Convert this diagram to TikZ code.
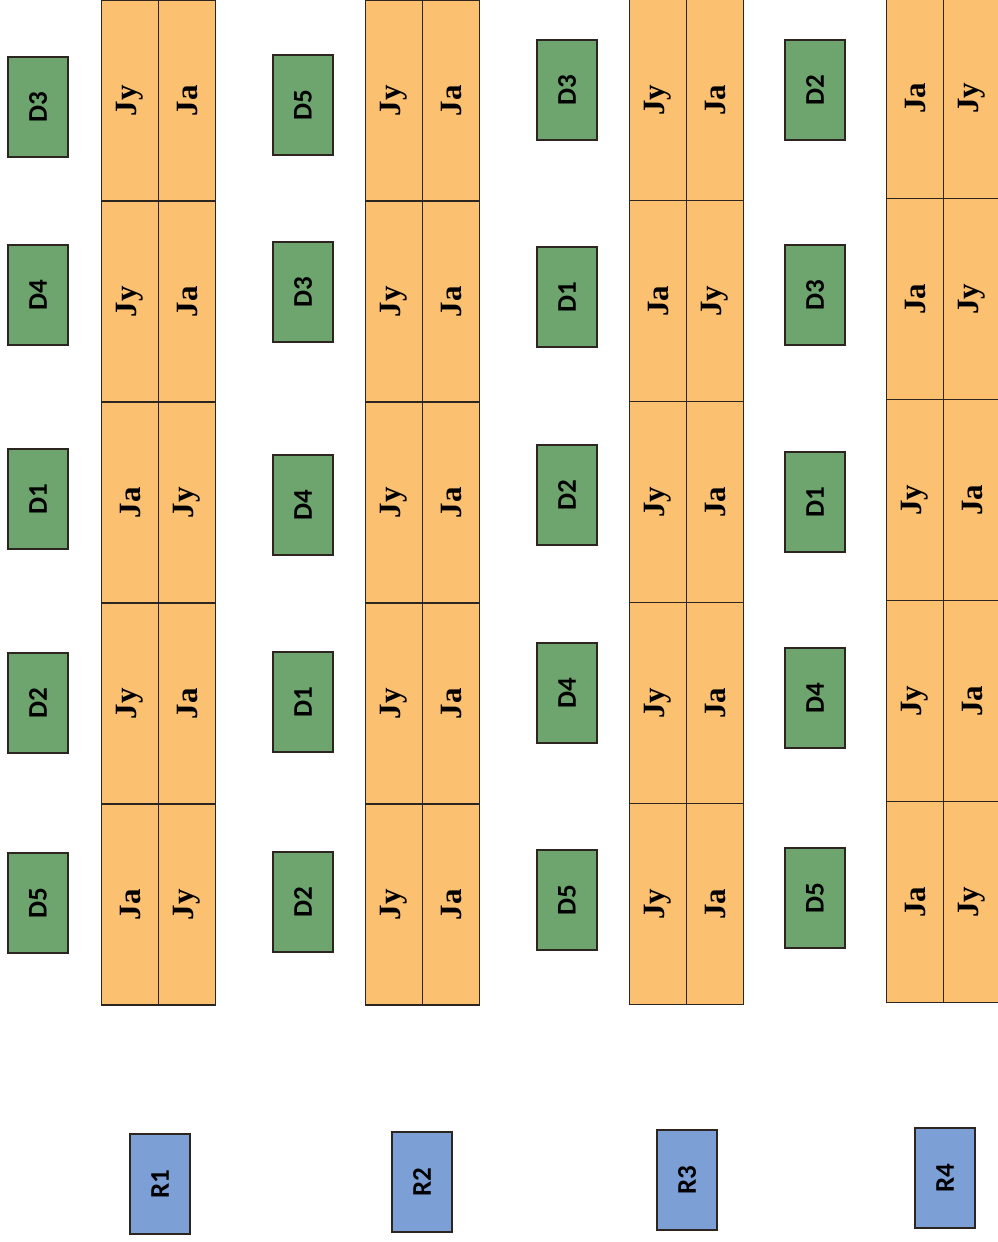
\documentclass[tikz,border=0pt]{standalone}
\usepackage{fontspec}
\setmainfont{Liberation Serif}
\newfontfamily\labelfont{Carlito}
\definecolor{cellfill}{RGB}{251,192,112}
\definecolor{dfill}{RGB}{110,164,110}
\definecolor{rfill}{RGB}{124,160,214}
\definecolor{edge}{RGB}{45,38,32}
\tikzset{
  cellbox/.style={draw=edge, line width=1.8pt, fill=cellfill, minimum width=57pt, minimum height=201pt, inner sep=0pt, font=\fontsize{31}{34}\selectfont\bfseries},
  dbox/.style={draw=edge, line width=1.8pt, fill=dfill, minimum width=60pt, minimum height=100pt, inner sep=0pt, font=\labelfont\fontsize{27}{30}\selectfont\bfseries},
  rbox/.style={draw=edge, line width=1.8pt, fill=rfill, minimum width=60pt, minimum height=100pt, inner sep=0pt, font=\labelfont\fontsize{27}{30}\selectfont\bfseries},
}
\newcommand{\rt}[1]{\rotatebox{90}{#1}}
\begin{document}
\begin{tikzpicture}[x=1pt,y=-1pt]
\useasboundingbox (0,0) rectangle (998,1242);
% ---- group 1
\foreach \n/\y/\lab in {1/107/D3,2/295/D4,3/499/D1,4/703/D2,5/903/D5}
  \node[dbox] (g1d\n) at (38,\y) {\rt{\lab}};
\foreach \n/\a/\b in {1/Jy/Ja,2/Jy/Ja,3/Ja/Jy,4/Jy/Ja,5/Ja/Jy}{
  \node[cellbox] (g1l\n) at (130,{100.5+201*(\n-1)}) {\rt{\a}};
  \node[cellbox] (g1r\n) at (187,{100.5+201*(\n-1)}) {\rt{\b}};
}
\node[rbox] (r1) at (160,1184) {\rt{R1}};
% ---- group 2
\foreach \n/\y/\lab in {1/105/D5,2/292/D3,3/505/D4,4/702/D1,5/902/D2}
  \node[dbox] (g2d\n) at (303,\y) {\rt{\lab}};
\foreach \n/\a/\b in {1/Jy/Ja,2/Jy/Ja,3/Jy/Ja,4/Jy/Ja,5/Jy/Ja}{
  \node[cellbox] (g2l\n) at (394,{100.5+201*(\n-1)}) {\rt{\a}};
  \node[cellbox] (g2r\n) at (451,{100.5+201*(\n-1)}) {\rt{\b}};
}
\node[rbox] (r2) at (422,1182) {\rt{R2}};
% ---- group 3
\foreach \n/\y/\lab in {1/90/D3,2/297/D1,3/495/D2,4/693/D4,5/900/D5}
  \node[dbox] (g3d\n) at (567,\y) {\rt{\lab}};
\foreach \n/\a/\b in {1/Jy/Ja,2/Ja/Jy,3/Jy/Ja,4/Jy/Ja,5/Jy/Ja}{
  \node[cellbox] (g3l\n) at (658,{100+201*(\n-1)}) {\rt{\a}};
  \node[cellbox] (g3r\n) at (715,{100+201*(\n-1)}) {\rt{\b}};
}
\node[rbox] (r3) at (687,1180) {\rt{R3}};
% ---- group 4
\foreach \n/\y/\lab in {1/90/D2,2/295/D3,3/502/D1,4/698/D4,5/898/D5}
  \node[dbox] (g4d\n) at (815,\y) {\rt{\lab}};
\foreach \n/\a/\b in {1/Ja/Jy,2/Ja/Jy,3/Jy/Ja,4/Jy/Ja,5/Ja/Jy}{
  \node[cellbox] (g4l\n) at (915,{98+201*(\n-1)}) {\rt{\a}};
  \node[cellbox] (g4r\n) at (972,{98+201*(\n-1)}) {\rt{\b}};
}
\node[rbox] (r4) at (945,1178) {\rt{R4}};
\end{tikzpicture}
\end{document}
